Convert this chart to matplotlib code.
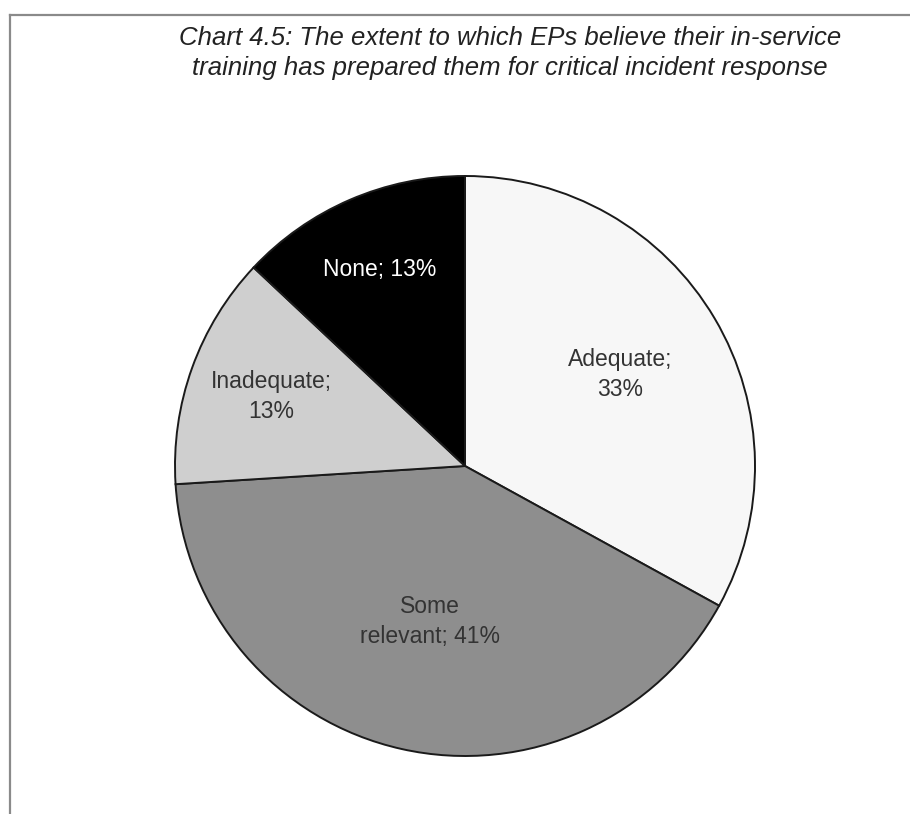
import matplotlib.pyplot as plt
from matplotlib.lines import Line2D
import numpy as np

plt.rcParams['font.family'] = ['Liberation Sans', 'DejaVu Sans']

categories = ['Adequate', 'Some\nrelevant', 'Inadequate', 'None']
shares = [33, 41, 13, 13]
label_text = ['Adequate;\n33%', 'Some\nrelevant; 41%', 'Inadequate;\n13%', 'None; 13%']
colors = ['#f7f7f7', '#8e8e8e', '#cfcfcf', '#000000']
text_colors = ['#333333', '#333333', '#333333', '#ffffff']
label_radius = [0.62, 0.55, 0.71, 0.74]

fig = plt.figure(figsize=(9.1, 8.14), dpi=100)
fig.patch.set_facecolor('white')

# frame lines (top and left edge of the chart box)
fig.add_artist(Line2D([10 / 910, 1.0], [1 - 15 / 814, 1 - 15 / 814],
                      color='#8a8a8a', lw=1.6))
fig.add_artist(Line2D([10 / 910, 10 / 910], [0.0, 1 - 15 / 814],
                      color='#8a8a8a', lw=1.6))

ax = fig.add_axes([175 / 910, 58 / 814, 580 / 910, 580 / 814])
wedges, _ = ax.pie(shares, colors=colors, startangle=90, counterclock=False,
                   radius=1.0, wedgeprops=dict(edgecolor='#1a1a1a', linewidth=1.4))
ax.set_xlim(-1.0, 1.0)
ax.set_ylim(-1.0, 1.0)
ax.set_aspect('equal')
ax.axis('off')

for w, txt, r, tc in zip(wedges, label_text, label_radius, text_colors):
    mid = np.deg2rad((w.theta1 + w.theta2) / 2)
    ax.text(r * np.cos(mid), r * np.sin(mid), txt, ha='center', va='center',
            fontsize=16.5, color=tc, linespacing=1.4)

fig.text(510 / 910, 1 - 53 / 814,
         'Chart 4.5: The extent to which EPs believe their in-service\n'
         'training has prepared them for critical incident response',
         ha='center', va='center', fontsize=18.5, style='italic',
         color='#222222', linespacing=1.32)

fig.savefig('out.png', dpi=100)
